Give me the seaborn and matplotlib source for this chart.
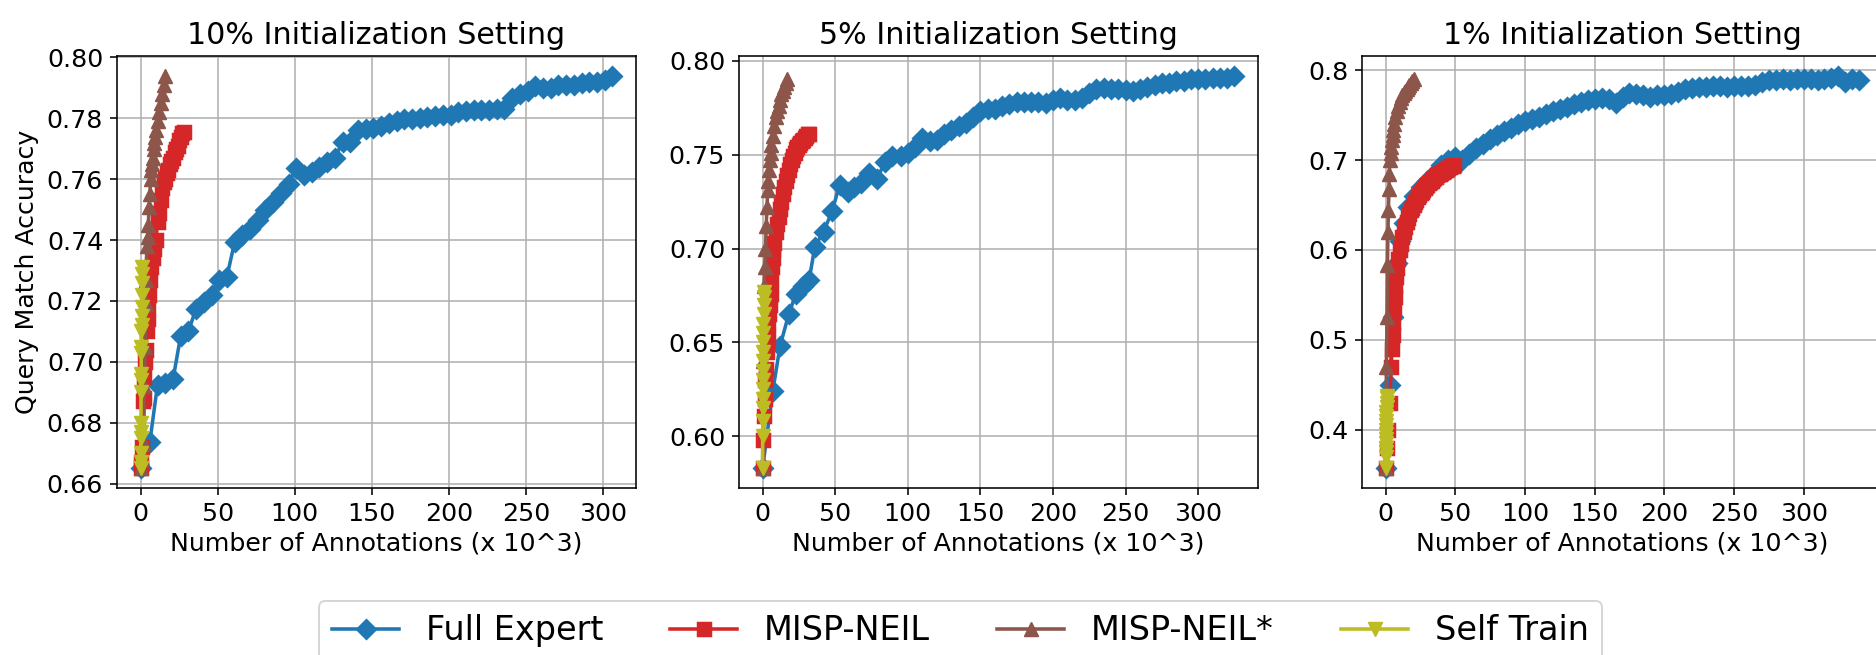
import matplotlib.pyplot as plt
import seaborn as sns
import pandas as pd

# ---- data (x in thousands of annotations) ----
# 10% init
fe10_x = [0, 6, 11, 16, 21, 26, 31, 36, 41, 46, 51, 56, 61, 66, 71, 76, 81, 86, 91, 96,
          101, 106, 111, 116, 121, 126, 131, 136, 141, 146, 151, 156, 161, 166, 171, 176,
          181, 186, 191, 196, 201, 206, 211, 216, 221, 226, 231, 236, 241, 246, 251, 256,
          261, 266, 271, 276, 281, 286, 291, 296, 301, 306]
fe10_y = [0.665, 0.6737, 0.6925, 0.693, 0.6942, 0.7085, 0.710, 0.7175, 0.7195, 0.722,
          0.7268, 0.728, 0.7393, 0.7415, 0.7435, 0.7465, 0.750, 0.7525, 0.7555, 0.7585,
          0.7638, 0.7612, 0.7625, 0.764, 0.7655, 0.767, 0.7722, 0.7722, 0.7762, 0.7765,
          0.7768, 0.7775, 0.7785, 0.779, 0.7798, 0.7798, 0.780, 0.7803, 0.7808, 0.781,
          0.7812, 0.782, 0.7825, 0.7828, 0.7828, 0.7828, 0.783, 0.7832, 0.7865, 0.788,
          0.789, 0.7905, 0.790, 0.790, 0.7908, 0.791, 0.791, 0.7915, 0.7918, 0.792,
          0.7925, 0.794]
mn10_x = [0, 0.5, 1, 1.5, 2, 2.5, 3, 3.5, 4, 4.5, 5, 5.5, 6, 7, 8, 9, 10, 11, 12, 13,
          14, 15, 16, 17, 18, 19, 20, 21, 22, 23, 24, 25, 26, 27, 28]
mn10_y = [0.665, 0.667, 0.672, 0.687, 0.688, 0.695, 0.700, 0.704, 0.710, 0.714, 0.719,
          0.722, 0.727, 0.731, 0.734, 0.737, 0.740, 0.746, 0.749, 0.753, 0.757, 0.759,
          0.760, 0.762, 0.763, 0.765, 0.766, 0.767, 0.769, 0.770, 0.771, 0.773, 0.774,
          0.775, 0.7755]
ms10_x = [0, 1, 2, 2.5, 3, 3.3, 3.6, 4, 4.5, 5, 5.5, 6, 6.5, 7, 7.5, 8, 8.5, 9, 9.5,
          10, 11, 12, 13, 14, 15, 16]
ms10_y = [0.665, 0.668, 0.673, 0.692, 0.705, 0.719, 0.727, 0.738, 0.741, 0.745, 0.751,
          0.755, 0.760, 0.763, 0.765, 0.767, 0.770, 0.772, 0.774, 0.776, 0.779, 0.782,
          0.785, 0.788, 0.791, 0.794]
st10_x = [0, 0.05, 0.1, 0.15, 0.2, 0.25, 0.3, 0.35, 0.4, 0.45, 0.5, 0.55, 0.6, 0.65,
          0.7, 0.75, 0.8, 0.85, 0.9]
st10_y = [0.665, 0.667, 0.670, 0.675, 0.677, 0.680, 0.690, 0.694, 0.696, 0.703, 0.705,
          0.710, 0.712, 0.715, 0.718, 0.722, 0.726, 0.729, 0.731]

# 5% init
fe5_x = [0, 7, 12, 18, 23, 28, 32, 36, 42, 48, 53, 59, 63, 68, 73, 79, 84, 89, 95, 100,
         105, 110, 115, 120, 125, 130, 135, 140, 145, 150, 155, 160, 165, 170, 175, 180,
         185, 190, 195, 200, 205, 210, 215, 220, 225, 230, 235, 240, 245, 250, 255, 260,
         265, 270, 275, 280, 285, 290, 295, 300, 305, 310, 315, 320, 325]
fe5_y = [0.583, 0.624, 0.648, 0.665, 0.676, 0.680, 0.683, 0.701, 0.709, 0.720, 0.734,
         0.730, 0.733, 0.735, 0.740, 0.737, 0.746, 0.749, 0.749, 0.751, 0.754, 0.759,
         0.757, 0.758, 0.761, 0.763, 0.765, 0.767, 0.770, 0.773, 0.774, 0.7745, 0.776,
         0.777, 0.778, 0.778, 0.778, 0.778, 0.7775, 0.779, 0.780, 0.779, 0.779, 0.780,
         0.783, 0.785, 0.7855, 0.785, 0.785, 0.7845, 0.784, 0.785, 0.786, 0.787, 0.788,
         0.788, 0.789, 0.789, 0.790, 0.790, 0.790, 0.791, 0.791, 0.791, 0.792]
mn5_x = [0, 0.5, 1, 1.5, 2, 2.5, 3, 3.5, 4, 4.5, 5, 5.5, 6, 6.5, 7, 7.5, 8, 9, 10, 11,
         12, 13, 14, 15, 16, 17, 18, 19, 20, 21, 22, 23, 24, 25, 26, 27, 28, 29, 30, 31, 32]
mn5_y = [0.583, 0.598, 0.611, 0.620, 0.630, 0.636, 0.645, 0.652, 0.660, 0.665, 0.670,
         0.676, 0.684, 0.690, 0.695, 0.700, 0.703, 0.709, 0.713, 0.717, 0.721, 0.725,
         0.729, 0.733, 0.736, 0.739, 0.742, 0.745, 0.747, 0.749, 0.751, 0.753, 0.754,
         0.755, 0.756, 0.757, 0.758, 0.759, 0.760, 0.761, 0.761]
ms5_x = [0, 0.5, 1, 1.5, 2, 2.5, 3, 3.5, 4, 4.5, 5, 5.5, 6, 7, 8, 9, 10, 11, 12, 13, 14,
         15, 16, 17]
ms5_y = [0.583, 0.640, 0.680, 0.690, 0.700, 0.712, 0.722, 0.731, 0.736, 0.742, 0.747,
         0.751, 0.755, 0.760, 0.765, 0.770, 0.773, 0.776, 0.779, 0.782, 0.784, 0.786,
         0.788, 0.790]
st5_x = [0, 0.05, 0.1, 0.15, 0.2, 0.25, 0.3, 0.35, 0.4, 0.45, 0.5, 0.55, 0.6, 0.65,
         0.7, 0.75, 0.8]
st5_y = [0.583, 0.600, 0.608, 0.615, 0.620, 0.625, 0.630, 0.635, 0.640, 0.645, 0.650,
         0.655, 0.660, 0.665, 0.670, 0.674, 0.677]

# 1% init
fe1_x = [0, 3, 5, 8, 10, 13, 16, 20, 25, 30, 35, 40, 45, 50, 55, 60, 65, 70, 75, 80, 85,
         90, 95, 100, 105, 110, 115, 120, 125, 130, 135, 140, 145, 150, 155, 160, 165,
         170, 175, 180, 185, 190, 195, 200, 205, 210, 215, 220, 225, 230, 235, 240, 245,
         250, 255, 260, 265, 270, 275, 280, 285, 290, 295, 300, 305, 310, 315, 320, 325,
         330, 335, 340]
fe1_y = [0.357, 0.45, 0.525, 0.585, 0.61, 0.63, 0.648, 0.66, 0.67, 0.677, 0.685, 0.695,
         0.700, 0.704, 0.700, 0.707, 0.713, 0.718, 0.723, 0.728, 0.732, 0.736, 0.740,
         0.743, 0.746, 0.748, 0.751, 0.755, 0.757, 0.759, 0.762, 0.765, 0.767, 0.768,
         0.769, 0.768, 0.764, 0.770, 0.775, 0.774, 0.772, 0.770, 0.772, 0.773, 0.774,
         0.776, 0.779, 0.780, 0.781, 0.781, 0.782, 0.782, 0.781, 0.782, 0.782, 0.783,
         0.784, 0.787, 0.789, 0.789, 0.790, 0.789, 0.790, 0.790, 0.790, 0.789, 0.790,
         0.791, 0.794, 0.787, 0.790, 0.789]
mn1_x = [0, 1, 2, 3, 4, 4.5, 5, 5.5, 6, 6.5, 7, 7.5, 8, 9, 10, 11, 12, 13, 14, 15, 16,
         17, 18, 19, 20, 21, 22, 23, 24, 25, 26, 27, 28, 29, 30, 31, 32, 33, 34, 35, 36,
         37, 38, 39, 40, 41, 42, 43, 44, 45, 46, 47, 48, 49]
mn1_y = [0.357, 0.380, 0.400, 0.430, 0.470, 0.490, 0.505, 0.520, 0.535, 0.548, 0.560,
         0.570, 0.580, 0.590, 0.600, 0.607, 0.614, 0.620, 0.626, 0.631, 0.636, 0.640,
         0.644, 0.647, 0.650, 0.653, 0.656, 0.659, 0.661, 0.663, 0.665, 0.667, 0.669,
         0.671, 0.672, 0.674, 0.676, 0.677, 0.679, 0.680, 0.681, 0.683, 0.684, 0.685,
         0.686, 0.687, 0.688, 0.689, 0.690, 0.691, 0.692, 0.693, 0.694, 0.695]
ms1_x = [0, 0.5, 1, 1.3, 1.6, 2, 2.3, 2.6, 3, 3.5, 4, 4.5, 5, 5.5, 6, 7, 8, 9, 10, 11,
         12, 13, 14, 15, 16, 17, 18, 19, 20]
ms1_y = [0.357, 0.470, 0.525, 0.583, 0.620, 0.645, 0.668, 0.685, 0.700, 0.708, 0.715,
         0.722, 0.728, 0.733, 0.740, 0.748, 0.755, 0.760, 0.765, 0.769, 0.772, 0.775,
         0.777, 0.779, 0.781, 0.784, 0.786, 0.788, 0.790]
st1_x = [0, 0.05, 0.1, 0.15, 0.2, 0.25, 0.3, 0.35, 0.4, 0.45, 0.5, 0.55, 0.6, 0.65,
         0.7, 0.75]
st1_y = [0.357, 0.370, 0.375, 0.380, 0.385, 0.390, 0.395, 0.400, 0.405, 0.410, 0.415,
         0.420, 0.425, 0.430, 0.435, 0.437]

titles = ["10% Initialization Setting", "5% Initialization Setting", "1% Initialization Setting"]
methods = ["Full Expert", "MISP-NEIL", "MISP-NEIL*", "Self Train"]
colors = ["tab:blue", "tab:red", "tab:brown", "tab:olive"]
markers = ["D", "s", "^", "v"]

panels = [
  [(fe10_x, fe10_y), (mn10_x, mn10_y), (ms10_x, ms10_y), (st10_x, st10_y)],
  [(fe5_x, fe5_y), (mn5_x, mn5_y), (ms5_x, ms5_y), (st5_x, st5_y)],
  [(fe1_x, fe1_y), (mn1_x, mn1_y), (ms1_x, ms1_y), (st1_x, st1_y)],
]

dpi = 142
fig = plt.figure(figsize=(1876 / dpi, 655 / dpi), dpi=dpi)
W, H = 1876, 655
boxes = [(117, 519), (739, 519), (1362, 521)]
top_px, bot_px = 56, 488

axes = []
for (l, w) in boxes:
  ax = fig.add_axes([l / W, 1 - bot_px / H, w / W, (bot_px - top_px) / H])
  axes.append(ax)

for ax, series, title in zip(axes, panels, titles):
  for (xs, ys), name, c, m in zip(series, methods, colors, markers):
    df = pd.DataFrame({"x": xs, "y": ys})
    sns.lineplot(data=df, x="x", y="y", ax=ax, color=c, marker=m, markersize=7.5,
                 markeredgecolor=c, linewidth=1.8, label=name, estimator=None, legend=False)
  ax.grid(True)
  ax.set_title(title, fontsize=15.3)
  ax.set_xlabel("Number of Annotations (x 10^3)", fontsize=12.8, labelpad=3)
  ax.set_ylabel("")
  ax.set_xticks([0, 50, 100, 150, 200, 250, 300])
  ax.tick_params(labelsize=12.8)

axes[0].set_ylabel("Query Match Accuracy", fontsize=12.8)

handles, labels = axes[0].get_legend_handles_labels()
fig.legend(handles, labels, loc="upper center", bbox_to_anchor=(0.512, 0.108),
           ncol=4, fontsize=17)

fig.savefig("out.png", dpi=dpi)
